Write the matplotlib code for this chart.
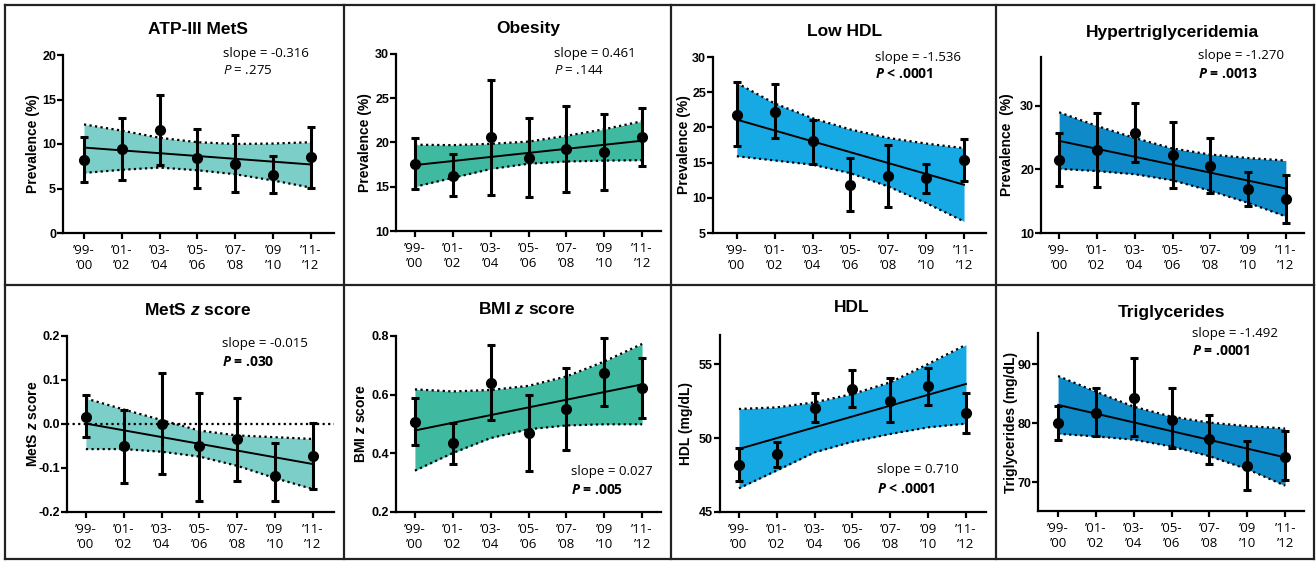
import matplotlib
matplotlib.use("Agg")
import matplotlib.pyplot as plt
import numpy as np

plt.rcParams['font.family'] = ['Liberation Sans', 'DejaVu Sans']
plt.rcParams['axes.unicode_minus'] = False
plt.rcParams['mathtext.fontset'] = 'custom'
plt.rcParams['mathtext.rm'] = 'Open Sans'
plt.rcParams['mathtext.it'] = 'Liberation Sans:italic:bold'   # z in titles / labels
plt.rcParams['mathtext.bf'] = 'Open Sans:italic:bold'         # bold P
plt.rcParams['mathtext.sf'] = 'Open Sans:italic'              # plain P

W, H = 1316, 561

cycles = ["’99-\n’00", "’01-\n’02", "’03-\n’04", "’05-\n’06", "’07-\n’08", "’09\n’10", "’11-\n’12"]
x = np.arange(len(cycles))

# ATP-III MetS prevalence (%)
atp_mean = [8.2, 9.4, 11.6, 8.4, 7.8, 6.5, 8.5]
atp_hi = [10.8, 12.9, 15.5, 11.7, 11.0, 8.6, 11.9]
atp_lo = [5.7, 5.9, 7.6, 5.1, 4.6, 4.5, 5.1]
atp_ci_hi = [12.2, 11.5, 10.7, 10.2, 10.0, 10.05, 10.2]
atp_ci_lo = [6.75, 7.1, 7.35, 7.05, 6.6, 5.9, 5.1]
atp_fit = [9.6, 7.7]

# Obesity prevalence (%)
obe_mean = [17.6, 16.2, 20.6, 18.3, 19.25, 18.9, 20.6]
obe_hi = [20.5, 18.7, 27.1, 22.75, 24.15, 23.2, 23.9]
obe_lo = [14.8, 13.9, 14.1, 13.8, 14.45, 14.65, 17.4]
obe_ci_hi = [19.75, 19.7, 19.85, 20.1, 20.75, 21.5, 22.4]
obe_ci_lo = [15.0, 16.0, 17.0, 17.6, 17.85, 17.95, 18.0]
obe_fit = [17.45, 20.2]

# Low HDL prevalence (%)
lhdl_mean = [21.8, 22.2, 18.0, 11.8, 13.15, 12.75, 15.4]
lhdl_hi = [26.4, 26.1, 21.0, 15.6, 17.55, 14.85, 18.35]
lhdl_lo = [17.3, 18.45, 14.85, 8.1, 8.75, 10.7, 12.4]
lhdl_ci_hi = [26.3, 23.4, 21.3, 19.7, 18.5, 17.7, 17.05]
lhdl_ci_lo = [15.9, 15.3, 14.7, 13.5, 11.6, 9.25, 6.65]
lhdl_fit = [21.1, 11.85]

# Hypertriglyceridemia prevalence (%)
htg_mean = [21.5, 23.05, 25.8, 22.2, 20.6, 16.9, 15.35]
htg_hi = [25.7, 28.85, 30.5, 27.45, 24.95, 19.65, 19.1]
htg_lo = [17.35, 17.2, 21.15, 17.05, 16.3, 14.3, 11.65]
htg_ci_hi = [29.0, 26.85, 24.95, 23.3, 22.35, 21.8, 21.4]
htg_ci_lo = [20.1, 19.75, 19.25, 18.3, 16.65, 14.75, 12.6]
htg_fit = [24.5, 17.0]

# MetS z score
mz_mean = [0.017, -0.051, 0.0, -0.051, -0.035, -0.118, -0.072]
mz_hi = [0.066, 0.032, 0.115, 0.070, 0.060, -0.044, 0.003]
mz_lo = [-0.030, -0.133, -0.113, -0.175, -0.129, -0.174, -0.148]
mz_ci_hi = [0.058, 0.033, 0.009, -0.015, -0.026, -0.030, -0.034]
mz_ci_lo = [-0.057, -0.057, -0.063, -0.074, -0.095, -0.123, -0.148]
mz_fit = [0.001, -0.091]

# BMI z score
bz_mean = [0.506, 0.435, 0.641, 0.469, 0.550, 0.675, 0.622]
bz_hi = [0.588, 0.505, 0.769, 0.599, 0.690, 0.792, 0.726]
bz_lo = [0.427, 0.364, 0.514, 0.341, 0.410, 0.560, 0.522]
bz_ci_hi = [0.618, 0.611, 0.616, 0.630, 0.662, 0.713, 0.773]
bz_ci_lo = [0.341, 0.401, 0.452, 0.482, 0.495, 0.499, 0.499]
bz_fit = [0.478, 0.635]

# HDL (mg/dL)
hdl_mean = [48.18, 48.92, 52.0, 53.3, 52.52, 53.54, 51.69]
hdl_hi = [49.3, 49.7, 53.02, 54.62, 54.03, 54.75, 53.02]
hdl_lo = [47.07, 48.06, 51.06, 52.07, 51.06, 52.23, 50.36]
hdl_ci_hi = [51.96, 52.07, 52.41, 52.97, 53.76, 55.0, 56.3]
hdl_ci_lo = [46.6, 47.8, 49.03, 49.75, 50.27, 50.72, 50.97]
hdl_fit = [49.26, 53.65]

# Triglycerides (mg/dL)
tg_mean = [80.0, 81.8, 84.2, 80.56, 77.3, 72.76, 74.3]
tg_hi = [82.99, 86.0, 91.1, 85.9, 81.4, 76.96, 78.6]
tg_lo = [77.07, 77.75, 77.75, 75.8, 73.1, 68.7, 70.4]
tg_ci_hi = [88.0, 85.35, 82.8, 81.1, 80.1, 79.5, 79.1]
tg_ci_lo = [78.2, 77.75, 77.2, 76.05, 74.4, 72.2, 69.4]
tg_fit = [83.1, 74.2]

LIGHT_TEAL = "#7bcfc8"
TEAL = "#3fbaa0"
BLUE = "#17a9e4"
DARK_BLUE = "#0e8ac9"

# box = (left, top, right, bottom) of axes in pixels
panels = [
    dict(title="ATP-III MetS", ylabel="Prevalence (%)", data=(atp_mean, atp_hi, atp_lo, atp_ci_hi, atp_ci_lo, atp_fit),
         slope="slope = -0.316", p=r"$\mathsf{P}$ = .275", bold_p=False, color=LIGHT_TEAL,
         ylim=(0, 20), yticks=[0, 5, 10, 15, 20], box=(63, 55, 334, 233), xlim=(-0.555, 6.61),
         title_xy=(198, 30), ylabel_x=33, slope_xy=(223, 53), p_y=70),
    dict(title="Obesity", ylabel="Prevalence (%)", data=(obe_mean, obe_hi, obe_lo, obe_ci_hi, obe_ci_lo, obe_fit),
         slope="slope = 0.461", p=r"$\mathsf{P}$ = .144", bold_p=False, color=TEAL,
         ylim=(10, 30), yticks=[10, 15, 20, 25, 30], box=(396, 54, 661, 231), xlim=(-0.50, 6.5),
         title_xy=(528, 28), ylabel_x=365, slope_xy=(554, 53), p_y=70),
    dict(title="Low HDL", ylabel="Prevalence (%)", data=(lhdl_mean, lhdl_hi, lhdl_lo, lhdl_ci_hi, lhdl_ci_lo, lhdl_fit),
         slope="slope = -1.536", p=r"$\mathbf{P}$ < .0001", bold_p=True, color=BLUE,
         ylim=(5, 30), yticks=[5, 10, 15, 20, 25, 30], box=(713, 57, 986, 233), xlim=(-0.63, 6.58),
         title_xy=(845, 32), ylabel_x=684, slope_xy=(875, 57), p_y=74),
    dict(title="Hypertriglyceridemia", ylabel="Prevalence  (%)", data=(htg_mean, htg_hi, htg_lo, htg_ci_hi, htg_ci_lo, htg_fit),
         slope="slope = -1.270", p=r"$\mathbf{P}$ = .0013", bold_p=True, color=DARK_BLUE,
         ylim=(10, 37.7), yticks=[10, 20, 30], box=(1041, 57, 1304, 233), xlim=(-0.48, 6.48),
         title_xy=(1172, 32), ylabel_x=1007, slope_xy=(1198, 55), p_y=74),
    dict(title=r"MetS $\mathit{z}$ score", ylabel=r"MetS $\mathit{z}$ score", data=(mz_mean, mz_hi, mz_lo, mz_ci_hi, mz_ci_lo, mz_fit),
         slope="slope = -0.015", p=r"$\mathbf{P}$ = .030", bold_p=True, color=LIGHT_TEAL,
         ylim=(-0.2, 0.2), yticks=[-0.2, -0.1, 0.0, 0.1, 0.2], box=(67, 336, 334, 512), xlim=(-0.50, 6.56),
         title_xy=(198, 310), ylabel_x=33, slope_xy=(222, 343), p_y=362, zero_line=True),
    dict(title=r"BMI $\mathit{z}$ score", ylabel=r"BMI $\mathit{z}$ score", data=(bz_mean, bz_hi, bz_lo, bz_ci_hi, bz_ci_lo, bz_fit),
         slope="slope = 0.027", p=r"$\mathbf{P}$ = .005", bold_p=True, color=TEAL,
         ylim=(0.2, 0.8), yticks=[0.2, 0.4, 0.6, 0.8], box=(396, 336, 661, 512), xlim=(-0.50, 6.5),
         title_xy=(527, 309), ylabel_x=361, slope_xy=(571, 472), p_y=490),
    dict(title="HDL", ylabel="HDL (mg/dL)", data=(hdl_mean, hdl_hi, hdl_lo, hdl_ci_hi, hdl_ci_lo, hdl_fit),
         slope="slope = 0.710", p=r"$\mathbf{P}$ < .0001", bold_p=True, color=BLUE,
         ylim=(45, 56.96), yticks=[45, 50, 55], box=(720, 335, 986, 512), xlim=(-0.50, 6.53),
         title_xy=(852, 308), ylabel_x=686, slope_xy=(877, 469), p_y=489),
    dict(title="Triglycerides", ylabel="Triglycerides (mg/dL)", data=(tg_mean, tg_hi, tg_lo, tg_ci_hi, tg_ci_lo, tg_fit),
         slope="slope = -1.492", p=r"$\mathbf{P}$ = .0001", bold_p=True, color=DARK_BLUE,
         ylim=(65.1, 95.3), yticks=[70, 80, 90], box=(1038, 333, 1304, 511), xlim=(-0.53, 6.5),
         title_xy=(1171, 313), ylabel_x=1011, slope_xy=(1192, 333), p_y=351),
]

fig = plt.figure(figsize=(W / 100, H / 100), dpi=100)

# panel frames
bg = fig.add_axes([0, 0, 1, 1], zorder=-1)
bg.set_xlim(0, W)
bg.set_ylim(H, 0)
bg.axis('off')
for xv in [5, 344, 671, 996, 1314]:
    bg.plot([xv, xv], [5, 559], color='#222222', lw=1.6, solid_capstyle='projecting')
for yv in [5, 285, 559]:
    bg.plot([5, 1314], [yv, yv], color='#222222', lw=1.6, solid_capstyle='projecting')

for p in panels:
    mean, hi, lo, ci_hi, ci_lo, fit = [np.array(v, dtype=float) for v in p['data']]
    l, t, r, b = p['box']
    ax = fig.add_axes([l / W, 1 - b / H, (r - l) / W, (b - t) / H])
    ax.patch.set_alpha(0)

    ax.fill_between(x, ci_lo, ci_hi, color=p['color'], lw=0, zorder=1)
    ax.plot(x, ci_hi, color='black', lw=1.6, ls=(0, (1, 1.5)), zorder=2)
    ax.plot(x, ci_lo, color='black', lw=1.6, ls=(0, (1, 1.5)), zorder=2)
    if p.get('zero_line'):
        ax.axhline(0, color='black', lw=1.6, ls=(0, (1, 1.5)), zorder=2)
    ax.plot([x[0], x[-1]], fit, color='black', lw=1.4, zorder=3)
    ax.errorbar(x, mean, yerr=[mean - lo, hi - mean], fmt='o', color='black', ms=7,
                elinewidth=2.2, capsize=3, capthick=2.2, zorder=4)

    ax.set_xlim(*p['xlim'])
    ax.set_ylim(*p['ylim'])
    ax.set_yticks(p['yticks'])
    if p['ylim'][0] == -0.2 or p['ylim'][0] == 0.2:
        ax.set_yticklabels([f"{v:.1f}" for v in p['yticks']])
    ax.set_xticks(x, cycles)
    for s in ['top', 'right']:
        ax.spines[s].set_visible(False)
    for s in ['left', 'bottom']:
        ax.spines[s].set_linewidth(1.6)
    ax.tick_params(axis='y', length=4, width=1.6, labelsize=9, pad=1)
    ax.tick_params(axis='x', length=4, width=1.6, labelsize=9.5, pad=4)
    for lbl in ax.get_yticklabels():
        lbl.set_fontweight('bold')
    for lbl in ax.get_xticklabels():
        lbl.set_fontfamily('Open Sans')
        lbl.set_linespacing(1.15)

    tx, ty = p['title_xy']
    fig.text(tx / W, 1 - ty / H, p['title'], ha='center', va='center', fontsize=12.5, fontweight='bold')
    fig.text(p['ylabel_x'] / W, 1 - (t + b) / 2 / H, p['ylabel'], rotation=90, ha='center', va='center',
             fontsize=10, fontweight='bold')
    sx, sy = p['slope_xy']
    fig.text(sx / W, 1 - sy / H, p['slope'], ha='left', va='center', fontsize=9.5, fontfamily='Open Sans')
    fig.text(sx / W, 1 - p['p_y'] / H, p['p'], ha='left', va='center', fontsize=10 if p['bold_p'] else 9.5,
             fontfamily='Open Sans', fontweight='bold' if p['bold_p'] else 'normal')

fig.savefig("out.png", dpi=100, facecolor='white')
